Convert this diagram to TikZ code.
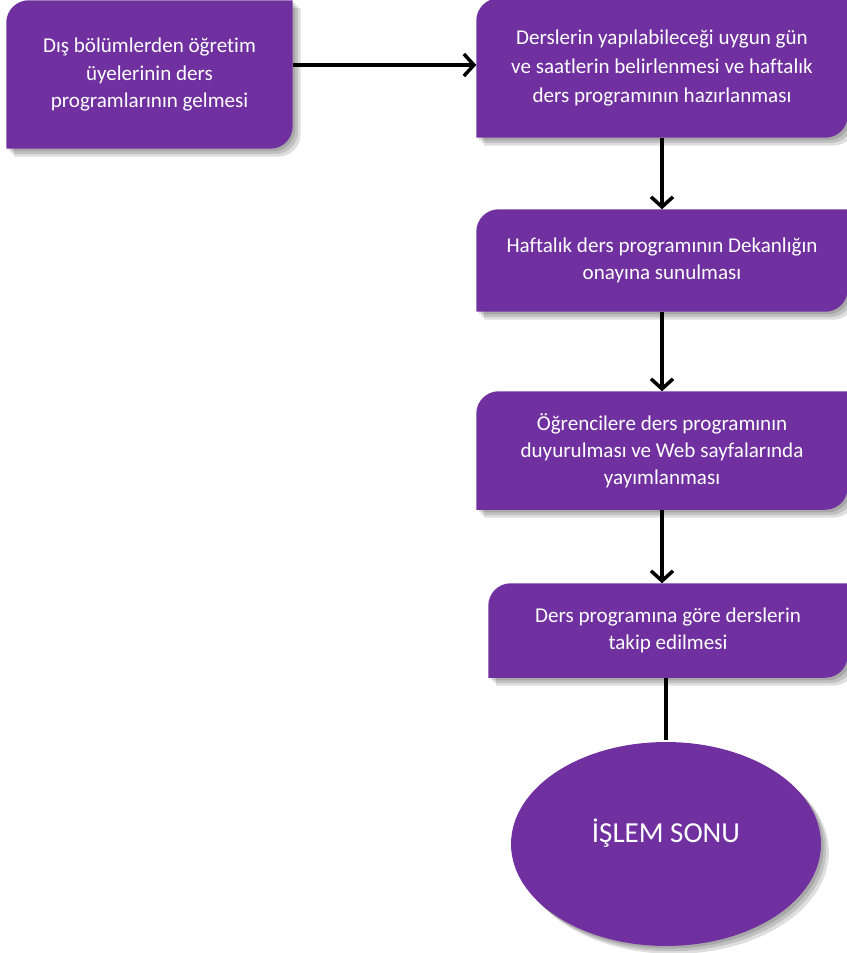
\documentclass[tikz,border=0pt]{standalone}
\usepackage{fontspec}
\setmainfont{Carlito}[Ligatures=NoCommon]
\usetikzlibrary{arrows.meta,shapes.geometric,backgrounds}
\definecolor{mor}{HTML}{7030A0}
\tikzset{kutu/.style={insert path={(#1.south west) -- ([yshift=-0.45cm]#1.north west)
  arc[start angle=180,end angle=90,radius=0.45cm] -- (#1.north east)
  -- ([yshift=0.45cm]#1.south east) arc[start angle=0,end angle=-90,radius=0.45cm] -- cycle}}}

\begin{document}
\begin{tikzpicture}[x=0.02cm,y=0.02cm,->,>={Straight Barb[length=2mm,width=4.4mm]},
                    line width=2pt]
  \tikzstyle{stepbox}=[rectangle,inner sep=2pt,text=white,align=center,
                       font=\fontsize{12}{15.5}\selectfont]
  \tikzstyle{endbox}=[ellipse,fill=mor,inner sep=0pt,text=white,text depth=0.52cm,
                      minimum width=6.2cm,minimum height=4.08cm,font=\fontsize{16.5}{19}\selectfont]
  \useasboundingbox (0,0) rectangle (846,-953);

  \node[stepbox,minimum width=5.66cm,minimum height=2.9cm] (dis) at (149.5,-74.5)
    {Dış bölümlerden öğretim\\üyelerinin ders\\programlarının gelmesi};
  \node[stepbox,minimum width=7.36cm,minimum height=2.72cm,
        font=\fontsize{12}{16.6}\selectfont] (gun) at (662,-68)
    {Derslerin yapılabileceği uygun gün\\ve saatlerin belirlenmesi ve haftalık\\ders programının hazırlanması};
  \node[stepbox,minimum width=7.36cm,minimum height=1.98cm] (onay) at (662,-260.5)
    {Haftalık ders programının Dekanlığın\\onayına sunulması};
  \node[stepbox,minimum width=7.36cm,minimum height=2.3cm] (duyuru) at (662,-450.5)
    {Öğrencilere ders programının\\duyurulması ve Web sayfalarında\\yayımlanması};
  \node[stepbox,minimum width=7.12cm,minimum height=1.82cm] (takip) at (668,-630.5)
    {Ders programına göre derslerin\\takip edilmesi};
  \node[endbox] (son) at (666,-844) {İŞLEM SONU};

  % shapes and shadows
  \begin{scope}[on background layer]
    \foreach \s in {1.5pt,3pt,4.5pt}{
      \begin{scope}[transform canvas={shift={(\s,-\s)}}]
        \foreach \n in {dis,gun,onay,duyuru,takip}
          \fill[black,opacity=0.13,kutu=\n];
        \fill[black,opacity=0.13] (son.center) ellipse [x radius=3.1cm,y radius=2.04cm];
      \end{scope}
    }
    \foreach \n in {dis,gun,onay,duyuru,takip}
      \fill[mor,kutu=\n];
  \end{scope}

  \draw ([yshift=0.19cm]dis.east) -- ([yshift=0.19cm]dis.east -| gun.west);
  \draw (gun.south) -- (onay.north);
  \draw (onay.south) -- (duyuru.north);
  \draw (duyuru.south) -- (duyuru.south |- takip.north);
  \draw[-] (son.north |- takip.south) -- (son.north);
\end{tikzpicture}
\end{document}
